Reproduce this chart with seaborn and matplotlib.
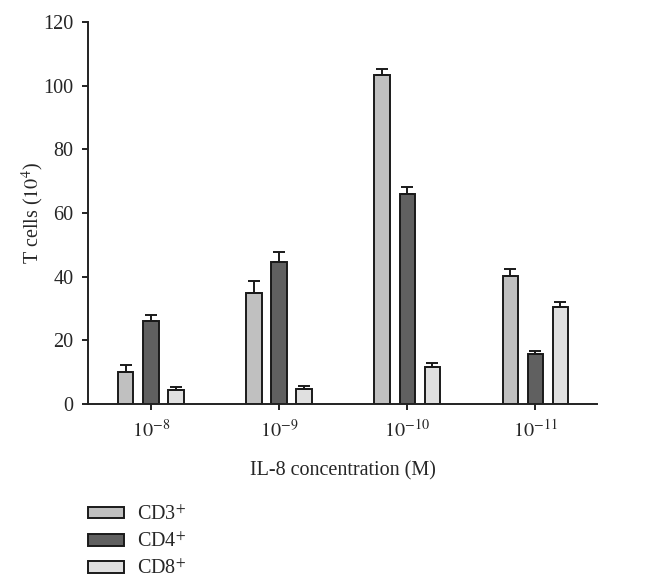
import numpy as np
import pandas as pd
import matplotlib
matplotlib.use("Agg")
import matplotlib.pyplot as plt
import seaborn as sns

concentrations = ["$10^{-8}$", "$10^{-9}$", "$10^{-10}$", "$10^{-11}$"]
cell_types = ["CD3$^{+}$", "CD4$^{+}$", "CD8$^{+}$"]
cd3_mean = [10.1, 34.9, 103.3, 40.2]
cd4_mean = [26.0, 44.5, 66.0, 15.5]
cd8_mean = [4.4, 4.7, 11.6, 30.4]
cd3_err = [2.1, 3.6, 2.1, 2.3]
cd4_err = [1.8, 3.1, 2.3, 1.1]
cd8_err = [0.9, 1.0, 1.3, 1.5]

colors = ["#c0c0c0", "#606060", "#e0e0e0"]

df = pd.DataFrame({
    "conc": concentrations * 3,
    "cell": np.repeat(cell_types, 4),
    "value": cd3_mean + cd4_mean + cd8_mean,
    "err": cd3_err + cd4_err + cd8_err,
})

sns.set_style("ticks")
plt.rcParams["font.family"] = ["Liberation Serif", "DejaVu Serif"]
plt.rcParams["mathtext.fontset"] = "stix"
FS = 14.5

fig = plt.figure(figsize=(6.48, 5.86), dpi=100)
ax = fig.add_axes([0.136, 0.311, 0.785, 0.651])

sns.barplot(data=df, x="conc", y="value", hue="cell", order=concentrations,
            hue_order=cell_types, palette=colors, width=0.588, gap=0.39,
            edgecolor="#1a1a1a", linewidth=1.4, errorbar=None, ax=ax,
            legend=True)

# error bars (upper only) at the drawn bar positions
for cell, bars in zip(cell_types, ax.containers):
    sub = df[df["cell"] == cell].set_index("conc").loc[concentrations]
    xs = [b.get_x() + b.get_width() / 2 for b in bars]
    ax.errorbar(xs, sub["value"], yerr=[np.zeros(4), sub["err"]], fmt="none",
                ecolor="#1a1a1a", elinewidth=1.4, capsize=4, capthick=1.4, zorder=3)

ax.set_xlim(-0.49, 3.48)
ax.set_ylim(0, 120)
ax.set_yticks(range(0, 121, 20))
ax.set_xlabel("IL-8 concentration (M)", fontsize=FS, labelpad=14)
ax.set_ylabel("T cells ($10^4$)", fontsize=FS, labelpad=-2)
ax.tick_params(axis="both", labelsize=FS, width=1.4, length=4.5, color="#222222")
ax.tick_params(axis="y", pad=6)
ax.tick_params(axis="x", pad=7)
for s in ["left", "bottom"]:
    ax.spines[s].set_linewidth(1.4)
    ax.spines[s].set_color("#222222")
sns.despine(ax=ax)

handles, labels = ax.get_legend_handles_labels()
ax.get_legend().remove()
fig.legend(handles, labels, loc="upper left", bbox_to_anchor=(0.136, 0.138),
           frameon=False, fontsize=FS, handlelength=1.8, handleheight=0.5,
           labelspacing=0.38, handletextpad=0.65, borderpad=0, borderaxespad=0)

fig.savefig("out.png", dpi=100)
